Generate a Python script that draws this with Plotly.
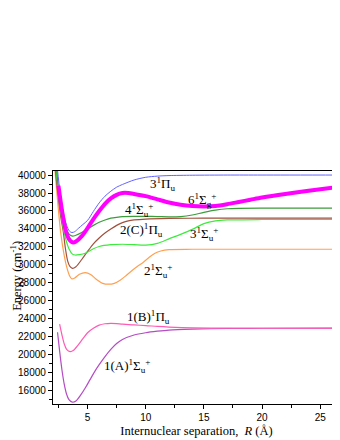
import plotly.graph_objects as go

# ---------------- data (R in Angstrom, energy in cm^-1) ----------------
R_3Pi = [2.3, 2.6, 2.9, 3.2, 3.45, 3.66, 3.9, 4.2, 4.6, 5.0, 5.5, 6.0, 6.5, 7.0, 7.5, 8.0, 9.0, 10.0, 11.0, 12.0, 14.0, 17.0, 20.0, 26.7]
E_3Pi = [42000, 38500, 36000, 34400, 33750, 33600, 33700, 34050, 34500, 34950, 35950, 36900, 37650, 38200, 38650, 38950, 39450, 39750, 39880, 39940, 39980, 40000, 40000, 40000]

R_6Sg = [2.5, 2.75, 3.0, 3.25, 3.5, 3.75, 4.0, 4.5, 5.0, 5.5, 6.0, 6.5, 7.0, 7.5, 8.0, 8.5, 9.0, 10.0, 11.0, 12.0, 13.0, 14.0, 15.0, 16.0, 17.0, 18.0, 19.0, 20.0, 22.0, 24.0, 26.7]
E_6Sg = [38800, 36500, 34600, 33300, 32700, 32500, 32600, 33200, 34100, 35100, 36000, 36800, 37400, 37800, 38000, 38000, 37900, 37650, 37300, 36950, 36700, 36550, 36500, 36550, 36750, 37000, 37250, 37500, 37900, 38250, 38700]

R_4Su = [2.25, 2.5, 2.8, 3.1, 3.4, 3.7, 4.0, 4.5, 5.0, 5.5, 6.0, 6.5, 7.0, 7.5, 8.0, 9.0, 10.0, 11.0, 12.0, 13.0, 14.0, 15.0, 16.0, 17.0, 18.0, 20.0, 26.7]
E_4Su = [42000, 38500, 35800, 34200, 33450, 33200, 33300, 33600, 34000, 34400, 34750, 35000, 35200, 35300, 35370, 35400, 35400, 35380, 35350, 35380, 35550, 35850, 36100, 36250, 36300, 36320, 36320]

R_3Su = [2.2, 2.5, 2.8, 3.1, 3.4, 3.7, 3.95, 4.3, 4.8, 5.5, 6.0, 7.0, 8.0, 9.0, 10.0, 11.0, 12.0, 13.0, 14.0, 15.0, 16.0, 17.0, 20.0, 26.7]
E_3Su = [42000, 38000, 35000, 33000, 31800, 31200, 31100, 31150, 31300, 31800, 32050, 32250, 32300, 32250, 32200, 32400, 32900, 33400, 33950, 34600, 34900, 35000, 35050, 35050]

R_2Pi = [2.1, 2.4, 2.7, 2.9, 3.1, 3.3, 3.5, 3.7, 4.0, 4.5, 5.0, 5.5, 6.0, 6.5, 7.0, 7.5, 8.0, 8.5, 9.0, 10.0, 12.0, 15.0, 20.0, 26.7]
E_2Pi = [42500, 38500, 35300, 33800, 31800, 30400, 29800, 29620, 29800, 30600, 31500, 32350, 33000, 33550, 34000, 34400, 34700, 34900, 35000, 35100, 35170, 35200, 35200, 35200]

R_2Su = [2.1, 2.4, 2.7, 3.0, 3.2, 3.45, 3.65, 3.9, 4.3, 4.8, 5.3, 5.8, 6.3, 6.8, 7.3, 7.8, 8.3, 8.8, 9.3, 9.8, 10.3, 10.8, 11.3, 12.0, 14.0, 20.0, 26.7]
E_2Su = [42000, 37500, 33500, 31000, 29800, 28800, 28450, 28550, 28950, 29150, 28900, 28350, 27950, 27850, 27950, 28300, 28800, 29350, 29850, 30300, 30850, 31300, 31550, 31700, 31740, 31740, 31740]

R_1B = [2.6, 2.8, 3.0, 3.2, 3.5, 3.8, 4.2, 4.6, 5.0, 5.5, 6.0, 6.5, 7.0, 7.5, 8.0, 9.0, 10.0, 11.0, 12.0, 14.0, 17.0, 20.0, 26.7]
E_1B = [23400, 22200, 21200, 20600, 20350, 20500, 21100, 21800, 22450, 22950, 23300, 23450, 23500, 23470, 23400, 23320, 23250, 23150, 23080, 23000, 22960, 22950, 22950]

R_1A = [2.42, 2.6, 2.8, 3.0, 3.2, 3.4, 3.7, 4.0, 4.4, 4.8, 5.2, 5.6, 6.0, 6.5, 7.0, 7.5, 8.0, 9.0, 10.0, 11.0, 12.0, 14.0, 17.0, 20.0, 26.7]
E_1A = [22500, 20400, 18300, 16700, 15600, 15000, 14720, 14850, 15500, 16300, 17200, 18100, 18900, 19800, 20600, 21250, 21700, 22200, 22450, 22620, 22750, 22850, 22920, 22950, 22960]

x_ticks = [5, 10, 15, 20, 25]
y_ticks = [16000, 18000, 20000, 22000, 24000, 26000, 28000, 30000, 32000, 34000, 36000, 38000, 40000]

curves = [
    (R_1A, E_1A, "#b44cc4", 1.2),
    (R_1B, E_1B, "#ff5ab4", 1.2),
    (R_2Su, E_2Su, "#ffa050", 1.2),
    (R_2Pi, E_2Pi, "#a0503c", 1.2),
    (R_3Su, E_3Su, "#3cec3c", 1.2),
    (R_4Su, E_4Su, "#3c9c3c", 1.2),
    (R_3Pi, E_3Pi, "#6464ff", 1.0),
    (R_6Sg, E_6Sg, "#ff00ff", 4.0),
]

labels = [
    (11.4, 39000, "3<sup>1</sup>Π<sub>u</sub>"),
    (14.85, 37250, "6<sup>1</sup>Σ<sub>g</sub><sup>+</sup>"),
    (9.45, 36100, "4<sup>1</sup>Σ<sub>u</sub><sup>+</sup>"),
    (9.6, 33880, "2(C)<sup>1</sup>Π<sub>u</sub>"),
    (15.0, 33450, "3<sup>1</sup>Σ<sub>u</sub><sup>+</sup>"),
    (11.05, 29330, "2<sup>1</sup>Σ<sub>u</sub><sup>+</sup>"),
    (10.25, 24220, "1(B)<sup>1</sup>Π<sub>u</sub>"),
    (8.35, 18780, "1(A)<sup>1</sup>Σ<sub>u</sub><sup>+</sup>"),
]

fig = go.Figure()
for xs, ys, col, w in curves:
    fig.add_trace(go.Scatter(x=xs, y=ys, mode="lines",
                             line=dict(color=col, width=w, shape="spline", smoothing=0.8),
                             showlegend=False, hoverinfo="skip"))

serif = "Liberation Serif, Times New Roman, serif"
for x, y, t in labels:
    fig.add_annotation(x=x, y=y, xref="x", yref="y", text=t, showarrow=False,
                       font=dict(family=serif, size=13, color="black"))

fig.add_annotation(xref="paper", yref="paper", x=0, y=0.55, xshift=-46,
                   xanchor="left", yanchor="middle", borderpad=0,
                   text="Energy (cm<sup>-1</sup>)", textangle=-90, showarrow=False,
                   font=dict(family=serif, size=12.5, color="black"))

fig.update_xaxes(range=[2.03, 26.7], tickvals=x_ticks, ticks="outside", ticklen=4,
                 tickcolor="black", showline=True, linecolor="black", linewidth=1.3,
                 mirror=True, showgrid=False, zeroline=False,
                 minor=dict(dtick=2.5, tick0=0, ticks="outside", ticklen=2.5, tickcolor="black"),
                 tickfont=dict(family="Liberation Sans, Arial, sans-serif", size=10, color="black"),
                 title=dict(text="Internuclear separation,  <i>R</i> (Å)",
                            font=dict(family=serif, size=12.5, color="black"), standoff=4))

fig.update_yaxes(range=[14520, 40450], tickvals=y_ticks, ticks="outside", ticklen=4,
                 tickcolor="black", showline=True, linecolor="black", linewidth=1.3,
                 showgrid=False, zeroline=False,
                 minor=dict(dtick=1000, tick0=0, ticks="outside", ticklen=2.5, tickcolor="black"),
                 tickfont=dict(family="Liberation Sans, Arial, sans-serif", size=10, color="black"),
                 tickformat="d")

# page body has an 8px margin, so the figure is sized/offset to compensate
fig.update_layout(width=332, height=432, margin=dict(l=45, r=0, t=163, b=36),
                  paper_bgcolor="white", plot_bgcolor="white")

fig.write_html("out.html")
